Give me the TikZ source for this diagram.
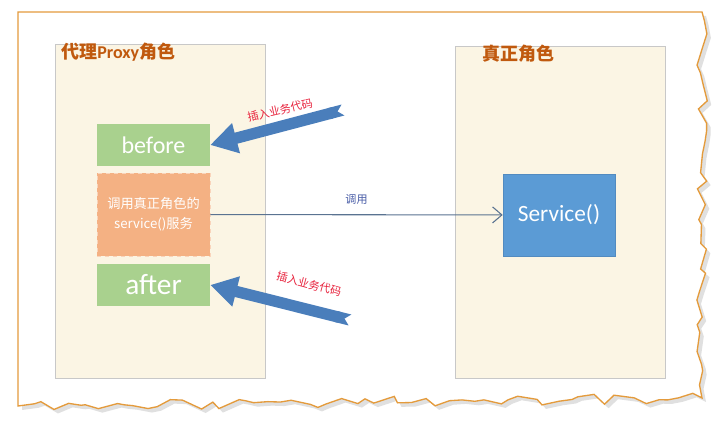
\documentclass[tikz,border=0pt]{standalone}
\usepackage{fontspec}
\setmainfont{Carlito}
\newfontfamily\cjk{Noto Sans CJK SC}
\usetikzlibrary{arrows.meta,decorations.pathmorphing}
\definecolor{framecol}{HTML}{E49B3C}
\definecolor{panelfill}{HTML}{FBF5E4}
\definecolor{panelgray}{HTML}{C8C8C8}
\definecolor{titlebrown}{HTML}{C0590E}
\definecolor{boxgreen}{HTML}{A9D18E}
\definecolor{boxorange}{HTML}{F4B183}
\definecolor{boxblue}{HTML}{5B9BD5}
\definecolor{arrowblue}{HTML}{4A7EBB}
\definecolor{labelred}{HTML}{E8233D}
\definecolor{callcol}{HTML}{5A7391}

\begin{document}
\begin{tikzpicture}[
  x=0.75pt, y=-0.75pt,
  panel/.style={draw=panelgray,fill=panelfill,inner sep=0pt,minimum width=157.5pt},
  title/.style={anchor=west,inner sep=0pt,text=titlebrown,font=\bfseries\fontsize{13.5}{15}\selectfont},
  greenbox/.style={fill=boxgreen,text=white,inner sep=0pt,minimum width=84.75pt,minimum height=31.5pt},
  callbox/.style={fill=boxorange,draw=white!45!boxorange,dashed,text=white,align=center,inner sep=0pt,
    minimum width=84.75pt,minimum height=62pt,font=\cjk\fontsize{9.9}{15}\selectfont},
  servicebox/.style={fill=boxblue,draw=boxblue!90!black,text=white,inner sep=0pt,
    minimum width=84pt,minimum height=61.5pt,font=\fontsize{17.5}{20}\selectfont},
  blockarrow/.style={draw=arrowblue,line width=8.5pt,{Triangle Cap[reversed]}-{Triangle[width=22pt,length=20pt]}},
  addlabel/.style={text=labelred,inner sep=0pt,font=\cjk\fontsize{8.3}{10}\selectfont},
  decoration={random steps,segment length=9pt,amplitude=4pt}
]
  \useasboundingbox (0,0) rectangle (718,434);
  \fill[white] (0,0) rectangle (718,434);
  \pgfmathsetseed{12}
  \fill[black!12] (22,16) -- (706,16) decorate{-- (706,402) -- (22,410)} -- cycle;
  \pgfmathsetseed{12}
  \draw[framecol,fill=white,line width=1pt] (18,12) -- (702,12) decorate{-- (702,398) -- (18,406)} -- cycle;

  \node[panel,minimum height=250.5pt] (proxy) at (160,211) {};
  \node[panel,minimum height=249pt] (real) at (560,212) {};
  \node[title] (proxytitle) at (61,52) {{\cjk 代理}Proxy{\cjk 角色}};
  \node[title] (realtitle) at (482,54) {\cjk 真正角色};

  \node[greenbox,font=\fontsize{18}{20}\selectfont] (before) at (153.5,145) {before};
  \node[callbox] (call) at (153.5,214.5) {调用真正角色的\\service()服务};
  \node[greenbox,font=\fontsize{22}{24}\selectfont] (after) at (153.5,285) {after};
  \node[servicebox] (service) at (559,215) {Service()};

  \draw[callcol,line width=0.8pt,-{Straight Barb[length=7pt,width=12pt]}] (call) -- (service)
    node[midway,above=4pt,text=callcol!80!blue,font=\cjk\fontsize{8.3}{10}\selectfont] (calllabel) {调用};

  \coordinate (toptail) at (343,110);
  \coordinate (bottail) at (350,320);
  \draw[blockarrow] (toptail) -- (before.east);
  \draw[blockarrow] (bottail) -- (after.east);
  \node[addlabel,rotate=13] (toplabel) at (280,110) {插入业务代码};
  \node[addlabel,rotate=-15] (botlabel) at (309,284) {插入业务代码};
\end{tikzpicture}
\end{document}
